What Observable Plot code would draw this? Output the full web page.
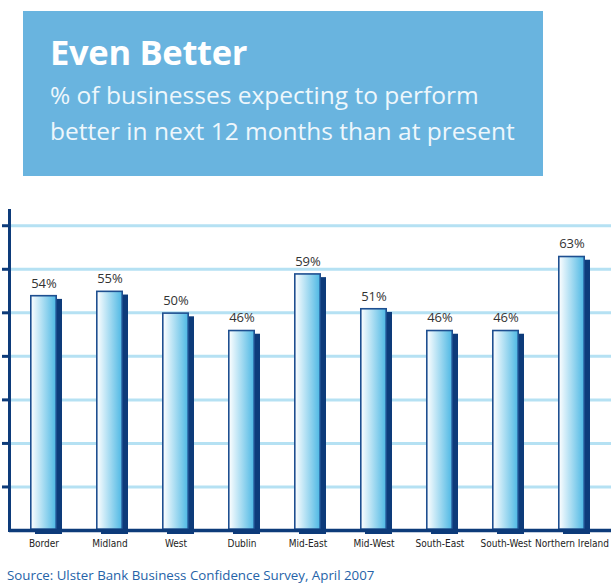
<!DOCTYPE html>
<html>
<head>
<meta charset="utf-8">
<script src="https://cdn.jsdelivr.net/npm/d3@7"></script>
<script src="https://cdn.jsdelivr.net/npm/@observablehq/plot@0.6"></script>
<style>
  html, body { margin: 0; padding: 0; background: #fff; }
  #page { position: relative; width: 611px; height: 584px; overflow: hidden; }
  #box { position: absolute; left: 23px; top: 11px; width: 520px; height: 165px; background: #69b4df; }
  #title { position: absolute; left: 27px; top: 20px; font-family: "Open Sans", sans-serif; font-weight: 700; font-size: 34.5px; color: #fff; line-height: 42px; letter-spacing: -0.3px; }
  #subtitle { position: absolute; left: 27px; top: 66px; font-family: "Open Sans", sans-serif; font-weight: 400; font-size: 24.5px; color: #eef7fc; line-height: 36px; white-space: nowrap; }
  #chart { position: absolute; left: 0; top: 195px; }
  #source { position: absolute; left: 7px; top: 566px; font-family: "Open Sans", sans-serif; font-size: 13.3px; color: #2563a8; white-space: nowrap; }
</style>
</head>
<body>
<div id="page">
  <div id="box">
    <div id="title">Even Better</div>
    <div id="subtitle">% of businesses expecting to perform<br>better in next 12 months than at present</div>
  </div>
  <div id="chart"></div>
  <div id="source">Source: Ulster Bank Business Confidence Survey, April 2007</div>
</div>
<script>
const regions = ["Border", "Midland", "West", "Dublin", "Mid-East", "Mid-West", "South-East", "South-West", "Northern Ireland"];
const values = [54, 55, 50, 46, 59, 51, 46, 46, 63];
const gridTicks = [10, 20, 30, 40, 50, 60, 70];

const data = regions.map((r, i) => ({region: r, value: values[i]}));

const navy = "#0d3b7a";
const plot = Plot.plot({
  width: 611,
  height: 365,
  marginTop: 15,
  marginBottom: 30,
  marginLeft: 9,
  marginRight: 0,
  x: {domain: regions, range: [9, 606], paddingInner: 0.59, paddingOuter: 0.295, label: null},
  y: {domain: [0, 73.5], label: null},
  style: {overflow: "hidden"},
  marks: [
    Plot.ruleY(gridTicks, {stroke: "#b5e1f3", strokeWidth: 3}),
    Plot.barY(data, {x: "region", y: "value", fill: navy, dx: 5, dy: 4}),
    Plot.barY(data, {x: "region", y: "value", fill: "url(#barGrad)", stroke: "#1e4f90", strokeWidth: 1.6, inset: 0.8}),
    Plot.text(data, {x: "region", y: "value", text: d => d.value + "%", dy: -12, fontSize: 13, fill: "#333", fontFamily: "Open Sans, sans-serif"}),
    Plot.ruleY([0], {stroke: navy, strokeWidth: 3.5}),
    Plot.axisY(gridTicks, {tickSize: 7, stroke: navy, strokeWidth: 3, tickFormat: () => "", label: null}),
    Plot.frame({anchor: "left", stroke: navy, strokeWidth: 3}),
    Plot.axisX({tickSize: 0, tickPadding: 9, fontSize: 10, fill: "#222", label: null, fontFamily: "Liberation Sans Narrow, DejaVu Sans Condensed, sans-serif"})
  ]
});

const svgNS = "http://www.w3.org/2000/svg";
const defs = document.createElementNS(svgNS, "defs");
const grad = document.createElementNS(svgNS, "linearGradient");
grad.setAttribute("id", "barGrad");
grad.setAttribute("x1", "0"); grad.setAttribute("y1", "0");
grad.setAttribute("x2", "1"); grad.setAttribute("y2", "0");
[["0%", "#ffffff"], ["15%", "#e4f4fb"], ["100%", "#4db8e4"]].forEach(([o, c]) => {
  const s = document.createElementNS(svgNS, "stop");
  s.setAttribute("offset", o); s.setAttribute("stop-color", c);
  grad.appendChild(s);
});
defs.appendChild(grad);
plot.insertBefore(defs, plot.firstChild);

document.getElementById("chart").appendChild(plot);
</script>
</body>
</html>
